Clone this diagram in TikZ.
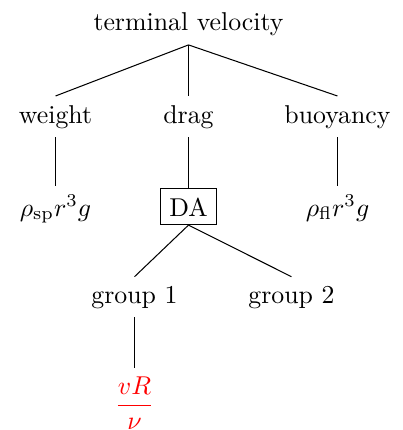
\documentclass[tikz,border=0pt]{standalone}
\usepackage{amsmath}
\begin{document}
\begin{tikzpicture}[x=0.3876pt,y=-0.3876pt,
  lbl/.style={anchor=base,inner sep=3.33pt},
  boxed/.style={lbl,draw},
  edge/.style={draw,line width=0.4pt}]
\useasboundingbox (0,0) rectangle (403,430);
\node[lbl] (tv) at (188.5,30.5) {terminal velocity};
\node[lbl] (w) at (55.5,123) {weight};
\node[lbl] (d) at (188.5,123) {drag};
\node[lbl] (b) at (337.5,123) {buoyancy};
\node[lbl] (rs) at (55.5,216) {$\rho_{\mathrm{sp}}r^3g$};
\node[boxed] (da) at (188.5,216) {DA};
\node[lbl] (rf) at (337.5,216) {$\rho_{\mathrm{fl}}r^3g$};
\node[lbl] (g1) at (134.5,303) {group 1};
\node[lbl] (g2) at (291.5,303) {group 2};
\node[lbl,text=red] (fr) at (134.5,412) {$\dfrac{vR}{\nu}$};
\draw[edge] (tv.south) -- (w.north);
\draw[edge] (tv.south) -- (d.north);
\draw[edge] (tv.south) -- (b.north);
\draw[edge] (w.south) -- (rs.north);
\draw[edge] (d.south) -- (da.north);
\draw[edge] (b.south) -- (rf.north);
\draw[edge] (da.south) -- (g1.north);
\draw[edge] (da.south) -- (g2.north);
\draw[edge] (g1.south) -- (fr.north);
\end{tikzpicture}
\end{document}
